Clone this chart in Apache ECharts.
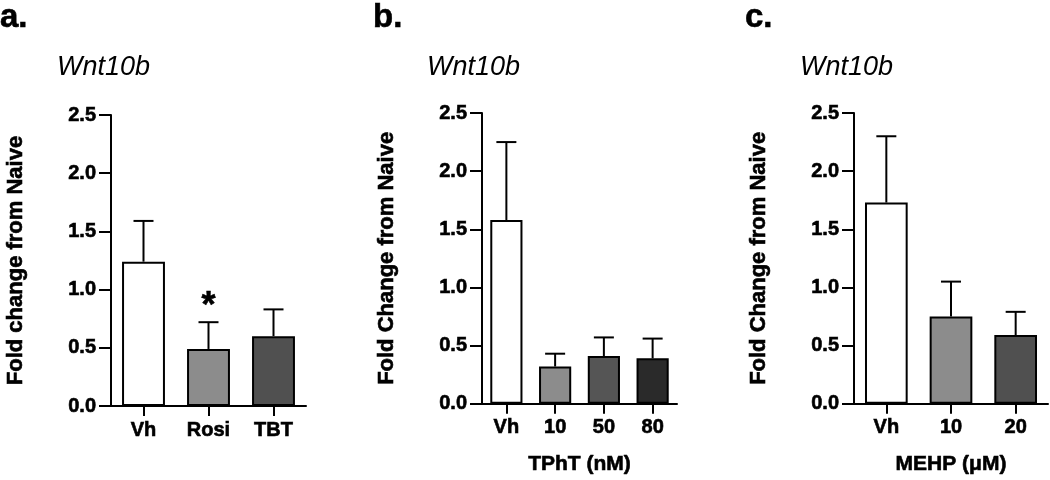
<!DOCTYPE html>
<html>
<head>
<meta charset="utf-8">
<script src="https://cdn.jsdelivr.net/npm/echarts/dist/echarts.min.js"></script>
<style>
  html, body { margin: 0; padding: 0; background: #ffffff; }
  #chart { width: 1050px; height: 480px; }
</style>
</head>
<body>
<div id="chart"></div>
<script>
// ---------------- data ----------------
const panelLabels = ['a.', 'b.', 'c.'];
const geneTitle = 'Wnt10b';

const catsA = ['Vh', 'Rosi', 'TBT'];
const meanA = [1.24, 0.49, 0.60];
const semA  = [0.35, 0.23, 0.23];
const sigA  = [false, true, false];
const yNameA = 'Fold change from Naive';

const catsB = ['Vh', '10', '50', '80'];
const meanB = [1.58, 0.32, 0.41, 0.39];
const semB  = [0.67, 0.11, 0.16, 0.17];
const sigB  = [false, false, false, false];
const yNameB = 'Fold Change from Naive';
const xNameB = 'TPhT (nM)';

const catsC = ['Vh', '10', '20'];
const meanC = [1.73, 0.75, 0.59];
const semC  = [0.57, 0.30, 0.20];
const sigC  = [false, false, false];
const yNameC = 'Fold Change from Naive';
const xNameC = 'MEHP (\u03BCM)';

const yMin = 0, yMax = 2.5, yStep = 0.5;
const sigMark = '*';

// ---------------- styles ----------------
const FONT = '"Liberation Sans", Arial, Helvetica, sans-serif';
const colorsA = ['#ffffff', '#8c8c8c', '#505050'];
const colorsB = ['#ffffff', '#8c8c8c', '#555555', '#2a2a2a'];
const colorsC = ['#ffffff', '#8c8c8c', '#505050'];
const heavy = { textBorderColor: '#000', textBorderWidth: 0.6 };

const panels = [
  { cats: catsA, mean: meanA, sem: semA, sig: sigA, colors: colorsA, yName: yNameA, xName: '',
    grid: { left: 111, top: 115, width: 195, height: 291 }, label: { left: 0, top: 1 }, title: { left: 57, top: 54 } },
  { cats: catsB, mean: meanB, sem: semB, sig: sigB, colors: colorsB, yName: yNameB, xName: xNameB,
    grid: { left: 482, top: 113, width: 195, height: 292 }, label: { left: 373, top: 1 }, title: { left: 427, top: 54 } },
  { cats: catsC, mean: meanC, sem: semC, sig: sigC, colors: colorsC, yName: yNameC, xName: xNameC,
    grid: { left: 854, top: 113, width: 194, height: 292 }, label: { left: 745, top: 1 }, title: { left: 800, top: 54 } }
];

const grids = [], xAxes = [], yAxes = [], series = [], titles = [];

panels.forEach((p, k) => {
  grids.push(Object.assign({ containLabel: false }, p.grid));
  titles.push({ text: panelLabels[k], left: p.label.left, top: p.label.top, padding: 0,
    textStyle: Object.assign({ fontFamily: FONT, fontSize: 33, fontWeight: 'bold', color: '#000' }, heavy) });
  titles.push({ text: geneTitle, left: p.title.left, top: p.title.top, padding: 0,
    textStyle: { fontFamily: FONT, fontSize: 27, fontWeight: 'normal', fontStyle: 'italic', color: '#000' } });

  xAxes.push({
    type: 'category', gridIndex: k, data: p.cats,
    name: p.xName, nameLocation: 'middle', nameGap: 50,
    nameTextStyle: Object.assign({ fontFamily: FONT, fontSize: 21, fontWeight: 'bold', color: '#000' }, heavy),
    axisLine: { show: true, lineStyle: { color: '#000', width: 2 } },
    axisTick: { show: true, alignWithLabel: true, length: 10, lineStyle: { color: '#000', width: 2 } },
    axisLabel: Object.assign({ fontFamily: FONT, fontSize: 20, fontWeight: 'bold', color: '#000', margin: 14 }, heavy),
    splitLine: { show: false }
  });
  yAxes.push({
    type: 'value', gridIndex: k, min: yMin, max: yMax, interval: yStep,
    name: p.yName, nameLocation: 'middle', nameGap: 84, nameRotate: 90,
    nameTextStyle: Object.assign({ fontFamily: FONT, fontSize: 22, fontWeight: 'bold', color: '#000' }, heavy),
    axisLine: { show: true, lineStyle: { color: '#000', width: 2 } },
    axisTick: { show: true, length: 12, lineStyle: { color: '#000', width: 2 } },
    axisLabel: Object.assign({ fontFamily: FONT, fontSize: 20, fontWeight: 'bold', color: '#000', margin: 15,
      formatter: v => v.toFixed(1) }, heavy),
    splitLine: { show: false }
  });

  series.push({
    type: 'bar', xAxisIndex: k, yAxisIndex: k, barCategoryGap: '34%',
    data: p.mean.map((m, i) => ({ value: m, itemStyle: { color: p.colors[i] } })),
    itemStyle: { borderColor: '#000', borderWidth: 2 },
    emphasis: { disabled: true }, animation: false, z: 2
  });

  series.push({
    type: 'custom', xAxisIndex: k, yAxisIndex: k, animation: false, z: 3,
    data: p.mean.map((m, i) => [i, m, m + p.sem[i], p.sig[i] ? 1 : 0]),
    encode: { x: 0, y: [1, 2] },
    renderItem: function (params, api) {
      const i = api.value(0);
      const a = api.coord([i, api.value(1)]);
      const b = api.coord([i, api.value(2)]);
      const half = 10;
      const st = { stroke: '#000', lineWidth: 2 };
      const children = [
        { type: 'line', shape: { x1: a[0], y1: a[1], x2: b[0], y2: b[1] }, style: st },
        { type: 'line', shape: { x1: b[0] - half, y1: b[1], x2: b[0] + half, y2: b[1] }, style: st }
      ];
      if (api.value(3) === 1) {
        children.push({ type: 'text', x: b[0], y: b[1] + 3,
          style: { text: sigMark, fontFamily: FONT, fontSize: 36, fontWeight: 'bold', fill: '#000',
            stroke: '#000', lineWidth: 0.6, align: 'center', verticalAlign: 'bottom' } });
      }
      return { type: 'group', children: children };
    }
  });
});

const chart = echarts.init(document.getElementById('chart'), null, { renderer: 'canvas' });
chart.setOption({
  backgroundColor: '#ffffff',
  animation: false,
  title: titles,
  grid: grids,
  xAxis: xAxes,
  yAxis: yAxes,
  series: series
});
</script>
</body>
</html>
